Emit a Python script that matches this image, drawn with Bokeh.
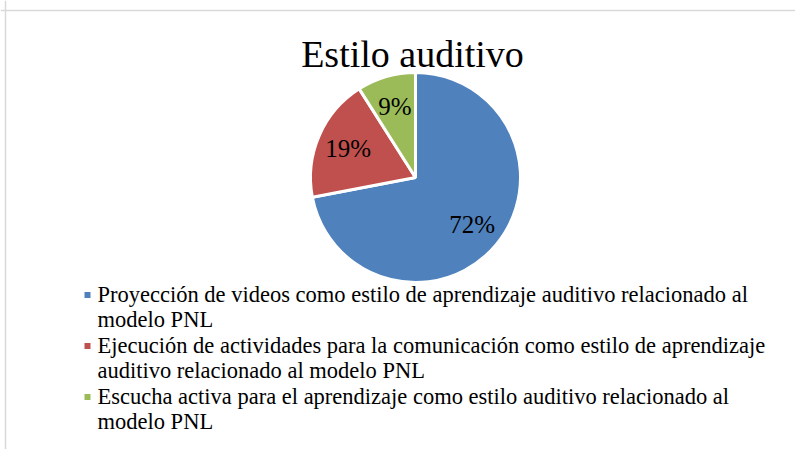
import math
from bokeh.plotting import figure
from bokeh.models import Range1d, Span, ColumnDataSource
from bokeh.core.properties import value
from bokeh.embed import file_html
from bokeh.resources import INLINE

# ---- data ----
chart_title = "Estilo auditivo"
categories = [
    "Proyección de videos como estilo de aprendizaje auditivo relacionado al modelo PNL",
    "Ejecución de actividades para la comunicación como estilo de aprendizaje auditivo relacionado al modelo PNL",
    "Escucha activa para el aprendizaje como estilo auditivo relacionado al modelo PNL",
]
legend_lines = [
    ["Proyección de videos como estilo de aprendizaje auditivo relacionado al", "modelo PNL"],
    ["Ejecución de actividades para la comunicación como estilo de aprendizaje", "auditivo relacionado al modelo PNL"],
    ["Escucha activa para el aprendizaje como estilo auditivo relacionado al", "modelo PNL"],
]
percent = [72, 19, 9]
colors = ["#4F81BD", "#C0504D", "#9BBB59"]

# ---- layout ----
W, H = 795, 449
FONT = "Liberation Serif"
cx, cy, r = 415, H - 177, 105
TITLE_PX, LEG_PX, LAB_PX = 38, 22.5, 25

p = figure(width=W, height=H, x_range=Range1d(0, W), y_range=Range1d(0, H),
           x_axis_type=None, y_axis_type=None, output_backend="svg",
           toolbar_location=None, min_border=0)
p.grid.visible = False
p.outline_line_color = None
p.background_fill_color = "white"
p.border_fill_color = "white"

# border (top / left visible in reference)
p.add_layout(Span(location=H - 10, dimension="width", line_color="#D9D9D9", line_width=1.5))
p.add_layout(Span(location=5, dimension="height", line_color="#D9D9D9", line_width=1.5))

# pie
total = float(sum(percent))
starts, ends, lx, ly, texts = [], [], [], [], []
cum = 0.0
for v in percent:
    a0 = math.pi / 2 - 2 * math.pi * cum / total
    cum += v
    a1 = math.pi / 2 - 2 * math.pi * cum / total
    starts.append(a0)
    ends.append(a1)
    mid = (a0 + a1) / 2
    lx.append(cx + 0.7 * r * math.cos(mid))
    ly.append(cy + 0.7 * r * math.sin(mid))
    texts.append(f"{v}%")

src = ColumnDataSource(dict(start=starts, end=ends, color=colors, cat=categories))
p.wedge(x=cx, y=cy, radius=r, start_angle="start", end_angle="end", direction="clock",
        fill_color="color", line_color="white", line_width=3, source=src)

p.text(x=lx, y=ly, text=texts, text_font=value(FONT), text_font_size=f"{LAB_PX}px",
       text_align="center", text_baseline="middle", text_color="black")

# title (baseline at canvas y=66; placed by its middle)
p.text(x=[412], y=[H - 66 + 0.33 * TITLE_PX], text=[chart_title], text_font=value(FONT),
       text_font_size=f"{TITLE_PX}px", text_align="center", text_baseline="middle",
       text_color="black")

# legend (manual, wrapped lines)
mx, my, tx, ty, tt = [], [], [], [], []
first_baseline = H - 301
for i, lines in enumerate(legend_lines):
    base = first_baseline - 51 * i
    mx.append(87)
    my.append(base + 6.5)
    for j, line in enumerate(lines):
        tx.append(97)
        ty.append(base - 25 * j + 0.33 * LEG_PX)
        tt.append(line)

p.scatter(x=mx, y=my, marker="square", size=6, fill_color=colors, line_color=None)
p.text(x=tx, y=ty, text=tt, text_font=value(FONT), text_font_size=f"{LEG_PX}px",
       text_align="left", text_baseline="middle", text_color="black")

open("out.html", "w").write(file_html(p, INLINE))
